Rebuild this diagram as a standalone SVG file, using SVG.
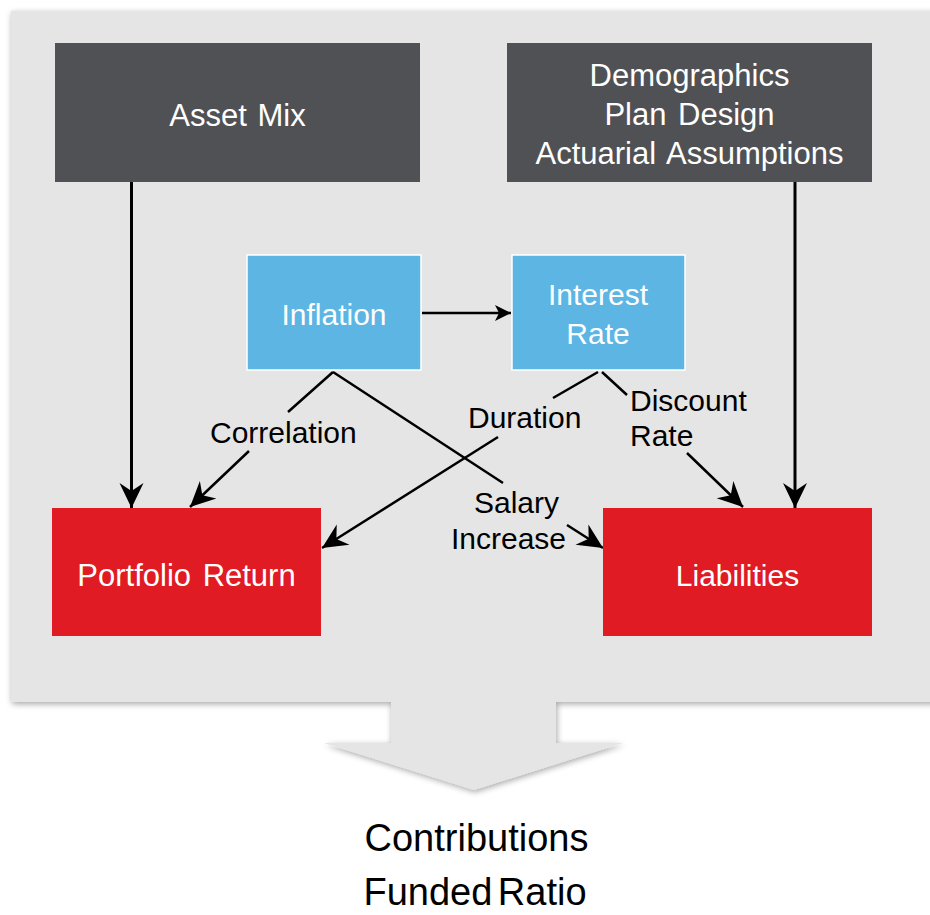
<svg xmlns="http://www.w3.org/2000/svg" width="930" height="915" viewBox="0 0 930 915">
<defs>
<filter id="sh" x="-5%" y="-5%" width="110%" height="110%">
<feGaussianBlur in="SourceAlpha" stdDeviation="3"/>
<feOffset dx="1" dy="2" result="b"/>
<feComponentTransfer><feFuncA type="linear" slope="0.35"/></feComponentTransfer>
<feMerge><feMergeNode/><feMergeNode in="SourceGraphic"/></feMerge>
</filter>
<marker id="big" markerUnits="userSpaceOnUse" orient="auto" refX="0" refY="0" markerWidth="30" markerHeight="30" overflow="visible">
<path d="M0,0 L-25,-12 L-17,0 L-25,12 Z" fill="#000"/>
</marker>
<marker id="small" markerUnits="userSpaceOnUse" orient="auto" refX="0" refY="0" markerWidth="20" markerHeight="20" overflow="visible">
<path d="M0,0 L-16,-8 L-12,0 L-16,8 Z" fill="#000"/>
</marker>
<style>
text{font-family:"Liberation Sans",Arial,sans-serif;font-size:30px}
.w{fill:#fff;text-anchor:middle;word-spacing:5px}
.l{font-size:31px;word-spacing:3px}
.k{fill:#000}
.dark{fill:#505155}
.blue{fill:#5db5e3;stroke:#fff;stroke-width:1.5}
.red{fill:#e01b23}
.ln{fill:none;stroke:#000;stroke-width:2.5}
.lv{fill:none;stroke:#000;stroke-width:3}
</style>
</defs>
<path id="panel" d="M11,11 H940 V702 H556 V743 H623 L474,790 L324,743 H391 V702 H11 Z" fill="#e5e5e5" filter="url(#sh)"/>
<g id="connectors">
<path class="lv" d="M131.5,182 L131.5,508" marker-end="url(#big)"/>
<path class="lv" d="M795,182 L795,508" marker-end="url(#big)"/>
<path class="ln" d="M422,313 L511,313" marker-end="url(#small)"/>
<path class="ln" d="M333,372 L288,412 M249,451 L190,507" marker-end="url(#big)"/>
<path class="ln" d="M333,372 L503,483 M567,525 L603,548" marker-end="url(#big)"/>
<path class="ln" d="M598,372 L553,398 M498,437 L322,548" marker-end="url(#big)"/>
<path class="ln" d="M602,372 L627,395 M687,453 L743,507" marker-end="url(#big)"/>
</g>
<g id="asset-mix"><rect class="dark" x="55" y="43" width="365" height="139"/><text class="w l" x="237.5" y="126" style="word-spacing:2px">Asset Mix</text></g>
<g id="demographics"><rect class="dark" x="507" y="43" width="365" height="139"/>
<text class="w l" x="689.5" y="86">Demographics</text>
<text class="w l" x="689.5" y="125">Plan Design</text>
<text class="w l" x="689.5" y="164">Actuarial Assumptions</text></g>
<g id="inflation"><rect class="blue" x="247" y="255" width="174" height="115"/><text class="w" x="334" y="325">Inflation</text></g>
<g id="interest-rate"><rect class="blue" x="512" y="255" width="173" height="115"/>
<text class="w" x="598" y="305">Interest</text><text class="w" x="598" y="344">Rate</text></g>
<g id="portfolio-return"><rect class="red" x="52" y="508" width="269" height="128"/><text class="w l" x="186.5" y="586">Portfolio Return</text></g>
<g id="liabilities"><rect class="red" x="603" y="508" width="269" height="128"/><text class="w" x="737.5" y="586">Liabilities</text></g>
<g id="labels">
<text class="k" x="210" y="443">Correlation</text>
<text class="k" x="468" y="428">Duration</text>
<text class="k" x="630" y="411">Discount</text>
<text class="k" x="630" y="446">Rate</text>
<text class="k" x="516.5" y="513" text-anchor="middle">Salary</text>
<text class="k" x="508.5" y="549" text-anchor="middle">Increase</text>
</g>
<g id="outputs">
<text class="k" x="476.5" y="851" text-anchor="middle" style="font-size:38px">Contributions</text>
<text class="k" x="475" y="905" text-anchor="middle" style="font-size:38px;word-spacing:-5px">Funded Ratio</text>
</g>
</svg>
